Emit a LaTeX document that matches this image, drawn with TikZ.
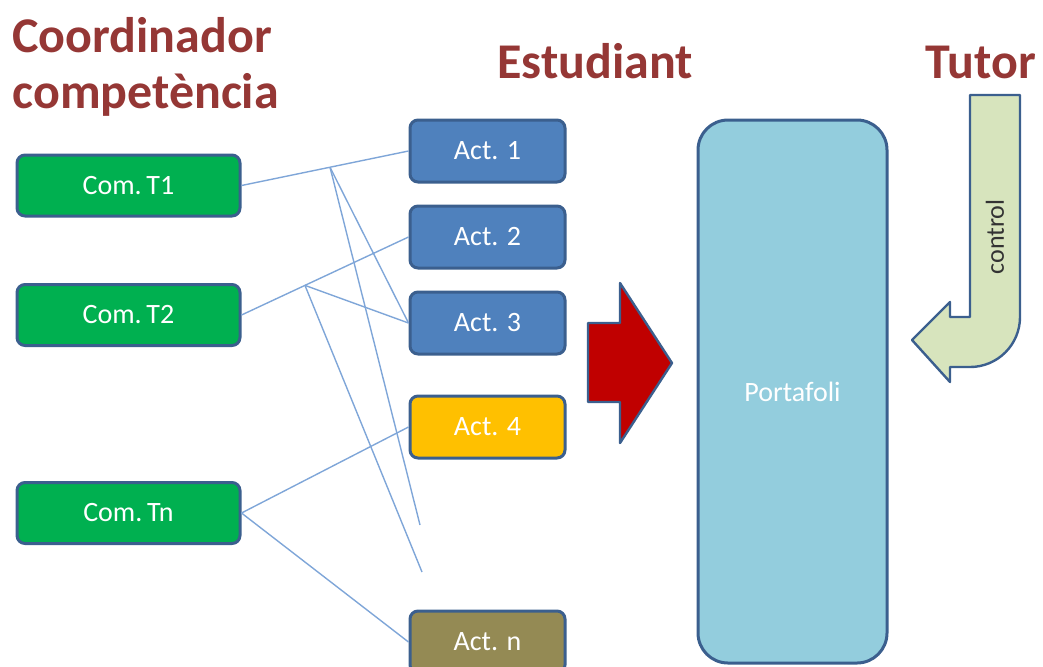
\documentclass[tikz,border=0pt]{standalone}
\usepackage{fontspec}
\setmainfont{Carlito}
\definecolor{comgreen}{HTML}{00B050}
\definecolor{actblue}{HTML}{4F81BD}
\definecolor{actyellow}{HTML}{FFC000}
\definecolor{actolive}{HTML}{948A54}
\definecolor{portblue}{HTML}{93CDDD}
\definecolor{edgeblue}{HTML}{3B5F8E}
\definecolor{linkblue}{HTML}{7FA6D8}
\definecolor{headred}{HTML}{953735}
\definecolor{ctrlgreen}{HTML}{D7E4BD}
\definecolor{bigred}{HTML}{C00000}
\begin{document}
\begin{tikzpicture}[x=0.5pt, y=-0.5pt, line join=round,
    box/.style={draw=edgeblue, line width=1.5pt, rounded corners=4pt, text=white,
                font=\fontsize{14}{16}\selectfont, inner sep=0pt},
    com/.style={box, fill=comgreen, minimum width=111.5pt, minimum height=30.5pt},
    act/.style={box, minimum width=77.5pt, minimum height=31pt},
    head/.style={text=headred, font=\fontsize{25}{30}\selectfont\bfseries, anchor=base west, inner sep=0pt},
    link/.style={draw=linkblue, line width=0.7pt}]
    \useasboundingbox (0,0) rectangle (1043,666);
    \clip (0,0) rectangle (1043,666);
    % titles
    \node[head] (hcoord) at (12,52) {Coordinador};
    \node[head] (hcomp) at (12,108) {competència};
    \node[head] (hest) at (497,78) {Estudiant};
    \node[head] (htut) at (925,78) {Tutor};
    % competences
    \node[com] (t1) at (128.5,185.5) {Com.\,T1};
    \node[com] (t2) at (128.5,315) {Com.\,T2};
    \node[com] (tn) at (128.5,513) {Com.\,Tn};
    % activities
    \node[act, fill=actblue] (a1) at (487.5,151) {Act. 1};
    \node[act, fill=actblue] (a2) at (487.5,237) {Act. 2};
    \node[act, fill=actblue] (a3) at (487.5,323) {Act. 3};
    \node[act, fill=actyellow] (a4) at (487.5,427) {Act. 4};
    \node[act, fill=actolive] (an) at (487.5,642) {Act. n};
    % portfolio
    \node[box, fill=portblue, rounded corners=15pt, minimum width=94.5pt, minimum height=271.5pt] (port) at (792.5,391.5) {};
    \node[text=white, font=\fontsize{14}{16}\selectfont] (lport) at (port.center) {Portafoli};
    % links
    \coordinate (e1) at (420,525);
    \coordinate (e2) at (422,572);
    \draw[link] (t1.east) -- coordinate[pos=.53] (p1) (a1.west);
    \draw[link] (p1) -- (a3.west);
    \draw[link] (p1) -- (e1);
    \draw[link] (t2.east) -- coordinate[pos=.38] (p2) (a2.west);
    \draw[link] (p2) -- (a3.west);
    \draw[link] (p2) -- (e2);
    \draw[link] (tn.east) -- (a4.west);
    \draw[link] (tn.east) -- (an.west);
    % big arrow
    \draw[draw=edgeblue, line width=1.2pt, fill=bigred]
        (588,323) -- (620,323) -- (620,283) -- (672,363) -- (620,443) -- (620,402) -- (588,402) -- cycle;
    % tutor arrow
    \draw[draw=edgeblue, line width=1.2pt, fill=ctrlgreen]
        (970,95) -- (1020,95) -- (1020,317) arc[start angle=0, end angle=90, radius=50]
        -- (950,367) -- (950,382) -- (912,340) -- (950,302) -- (950,317) -- (970,317) -- cycle;
    \node[rotate=90, text=black!80, font=\fontsize{13}{15}\selectfont] (lctrl) at (995,237) {control};
\end{tikzpicture}
\end{document}
